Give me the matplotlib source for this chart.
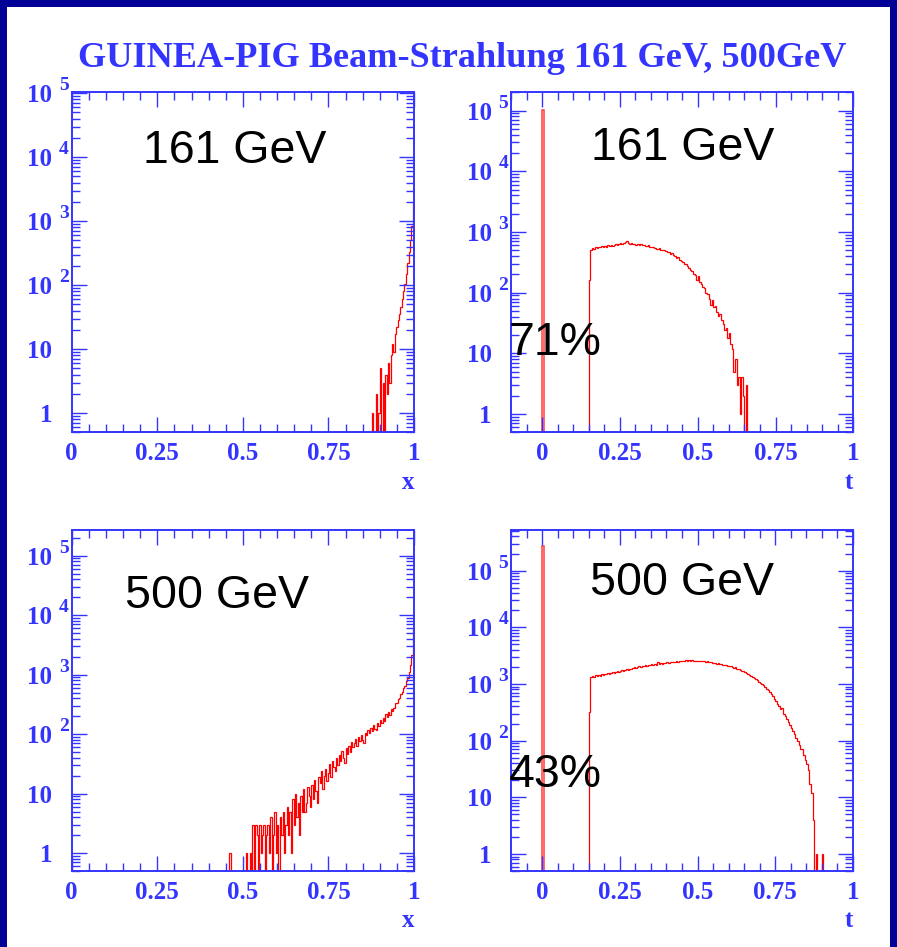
import numpy as np
import matplotlib
matplotlib.use("Agg")
import matplotlib.pyplot as plt
from matplotlib import ticker, transforms
from matplotlib.patches import Rectangle

# ---------------- data ----------------
title = "GUINEA-PIG Beam-Strahlung 161 GeV, 500GeV"
energy_labels = ["161 GeV", "500 GeV"]
peak_fractions = ["71%", "43%"]

x_bin_width = 0.004
t_bin_width = 0.005

# luminosity spectrum x = sqrt(s')/sqrt(s), 161 GeV (bins start at 0.876)
x161_start = 0.876
x161_counts = [1, 0, 0, 2, 0, 1, 5, 0, 3, 0, 4, 2, 6, 3, 8, 12, 9, 17, 22, 28,
               35, 45, 60, 80, 105, 150, 220, 330, 500, 850, 2000]

# luminosity spectrum, 500 GeV (bins start at 0.460)
x500_start = 0.460
x500_counts = [1, 0, 0, 0, 0, 0, 0, 0, 0, 0, 0, 0, 1, 0, 0, 1, 0, 3, 0, 3,
               2, 0, 3, 1, 2, 3, 0, 2, 3, 1, 4, 0, 2, 5, 1, 3, 0, 4, 2, 5,
               1, 3, 6, 2, 5, 1, 8, 3, 10, 4, 7, 2, 9, 5, 12, 5, 7, 13, 9, 6,
               14, 8, 17, 11, 7, 19, 15, 24, 12, 20, 26, 16, 22, 31, 19, 35, 28, 24, 39, 30,
               45, 36, 52, 40, 33, 58, 47, 62, 51, 74, 60, 70, 82, 64, 88, 76, 95, 81, 72, 104,
               96, 118, 103, 128, 112, 140, 124, 116, 155, 138, 172, 152, 190, 168, 214, 196, 232, 210, 262, 248,
               280, 330, 335, 390, 410, 475, 510, 590, 650, 770, 890, 1100, 1450, 2100, 5800]

# t spectrum, 161 GeV: peak bin at t = 0 plus continuum from t = 0.150
t161_peak = 1.02e5
t161_start = 0.150
t161_counts = [160, 500, 540, 520, 560, 545, 570, 555, 580, 565,
               590, 575, 600, 585, 610, 595, 620, 640, 615, 630,
               650, 625, 660, 690, 700, 655, 640, 660, 630, 645,
               620, 640, 615, 625, 600, 620, 595, 580, 600, 570,
               560, 575, 545, 530, 520, 535, 510, 495, 500, 480,
               470, 460, 440, 445, 420, 395, 375, 385, 350, 330,
               320, 300, 295, 270, 255, 240, 230, 205, 195, 160,
               185, 150, 140, 125, 120, 100, 95, 80, 62, 75,
               58, 60, 48, 42, 45, 35, 30, 24, 26, 18,
               22, 14, 12, 5, 8, 3, 4, 1, 4, 2,
               0, 3]

# t spectrum, 500 GeV: peak bin at t = 0 plus continuum from t = 0.150
t500_peak = 2.7e5
t500_start = 0.150
t500_counts = [320, 1350, 1380, 1300, 1420, 1390, 1450, 1400, 1480, 1430,
               1500, 1470, 1550, 1490, 1580, 1640, 1560, 1620, 1680, 1600,
               1720, 1790, 1700, 1760, 1820, 1780, 1870, 1830, 1900, 1950,
               1880, 1980, 2030, 1970, 2080, 2040, 2120, 2090, 2180, 2140,
               2230, 2160, 2270, 2200, 2400, 2280, 2340, 2290, 2380, 2320,
               2420, 2360, 2450, 2390, 2480, 2430, 2510, 2460, 2540, 2490,
               2570, 2520, 2600, 2550, 2620, 2560, 2600, 2540, 2580, 2530,
               2570, 2510, 2560, 2490, 2530, 2460, 2500, 2430, 2460, 2380,
               2330, 2360, 2290, 2310, 2240, 2270, 2200, 2150, 2180, 2090,
               2050, 2080, 1990, 1940, 1960, 1870, 1820, 1780, 1720, 1680,
               1620, 1560, 1520, 1450, 1400, 1350, 1280, 1220, 1180, 1100,
               1050, 990, 940, 870, 820, 770, 710, 660, 600, 550,
               500, 450, 410, 360, 380, 300, 270, 240, 215, 190,
               170, 150, 130, 110, 100, 85, 70, 72, 55, 45,
               38, 30, 17, 12, 4, 0, 1, 0, 0, 0,
               1]

x_ticks = [0, 0.25, 0.5, 0.75, 1]
x_tick_labels = ["0", "0.25", "0.5", "0.75", "1"]
decades = [1, 10, 100, 1000, 10000, 100000]

# ---------------- style ----------------
W, H = 897, 947
BLUE = "#3434ff"
RED = "#ff0000"
NAVY = "#000096"
SERIF = "Liberation Serif"
SANS = "Liberation Sans"
FLOOR = 1e-3
TICK_FS = 18

fig = plt.figure(figsize=(W / 100, H / 100), dpi=100)
fig.patch.set_facecolor("white")

# dark slide frame
for rect in [(0, 1 - 7 / H, 1, 7 / H), (0, 0, 7 / W, 1), (890 / W, 0, 7 / W, 1)]:
    fig.patches.append(Rectangle(rect[:2], rect[2], rect[3], transform=fig.transFigure,
                                 facecolor=NAVY, edgecolor="none", zorder=-10))


def px_axes(left, top, right, bottom):
    return fig.add_axes([left / W, 1 - bottom / H, (right - left) / W, (bottom - top) / H])


def style_axes(ax, xlim, ylim, xname):
    ax.set_yscale("log")
    ax.set_xlim(*xlim)
    ax.set_ylim(*ylim)
    for sp in ax.spines.values():
        sp.set_color(BLUE)
        sp.set_linewidth(1.4)
    ax.xaxis.set_major_locator(ticker.FixedLocator(x_ticks))
    ax.xaxis.set_major_formatter(ticker.FixedFormatter(x_tick_labels))
    ax.xaxis.set_minor_locator(ticker.MultipleLocator(0.05))
    vis = [d for d in decades if ylim[0] <= d <= ylim[1]]
    ax.yaxis.set_major_locator(ticker.FixedLocator(vis))
    ax.yaxis.set_major_formatter(ticker.FuncFormatter(lambda v, p: "1" if v < 5 else "10"))
    ax.yaxis.set_minor_locator(ticker.LogLocator(base=10, subs=np.arange(2, 10), numticks=20))
    ax.yaxis.set_minor_formatter(ticker.NullFormatter())
    ax.tick_params(which="both", direction="in", top=True, right=True,
                   color=BLUE, width=1.0)
    ax.tick_params(which="major", length=10.8)
    ax.tick_params(which="minor", length=5.8)
    ax.tick_params(axis="x", which="major", pad=7.0)
    ax.tick_params(axis="y", which="major", pad=14.0)
    for lab in ax.get_xticklabels() + ax.get_yticklabels():
        lab.set_fontfamily(SERIF)
        lab.set_fontweight("bold")
        lab.set_fontsize(TICK_FS)
        lab.set_color(BLUE)
    # decade exponents
    exp_tr = transforms.offset_copy(ax.get_yaxis_transform(), fig=fig, x=-3, y=3, units="dots")
    for d in vis:
        e = int(round(np.log10(d)))
        if e >= 2:
            ax.text(0, d, str(e), transform=exp_tr, ha="right", va="baseline",
                    fontfamily=SERIF, fontweight="bold", fontsize=14, color=BLUE,
                    clip_on=False)
    ax.annotate(xname, xy=(1, 0), xycoords="axes fraction", xytext=(0, -40.5),
                textcoords="offset points", ha="right", va="baseline",
                fontfamily=SERIF, fontweight="bold", fontsize=TICK_FS, color=BLUE)


def draw_hist(ax, start, width, counts):
    c = np.asarray(counts, dtype=float)
    edges = start + width * np.arange(len(c) + 1)
    ax.stairs(np.where(c > 0, c, FLOOR), edges, baseline=FLOOR, color=RED, lw=0.9)


def draw_peak(ax, value, width):
    ax.stairs([value], [0, width], baseline=FLOOR, color="#ff4040", lw=1.1)


ax1 = px_axes(71.7, 91.7, 414, 432.3)
ax2 = px_axes(511, 92.3, 853.3, 432.3)
ax3 = px_axes(71.7, 530, 414, 871)
ax4 = px_axes(511, 530, 853, 871)

style_axes(ax1, (0, 1), (0.5, 1.05e5), "x")
style_axes(ax2, (-0.1, 1), (0.5, 2.0e5), "t")
style_axes(ax3, (0, 1), (0.5, 2.7e5), "x")
style_axes(ax4, (-0.1, 1), (0.5, 5.2e5), "t")

draw_hist(ax1, x161_start, x_bin_width, x161_counts)
draw_hist(ax3, x500_start, x_bin_width, x500_counts)
draw_peak(ax2, t161_peak, t_bin_width)
draw_hist(ax2, t161_start, t_bin_width, t161_counts)
draw_peak(ax4, t500_peak, t_bin_width)
draw_hist(ax4, t500_start, t_bin_width, t500_counts)

txt = dict(fontfamily=SANS, fontsize=33.5, color="black", ha="center", va="baseline")
ax1.text(0.477, 0.792, energy_labels[0], transform=ax1.transAxes, **txt)
ax2.text(0.501, 0.801, energy_labels[0], transform=ax2.transAxes, **txt)
ax2.text(0.1285, 0.227, peak_fractions[0], transform=ax2.transAxes, **txt)
ax3.text(0.4236, 0.770, energy_labels[1], transform=ax3.transAxes, **txt)
ax4.text(0.499, 0.809, energy_labels[1], transform=ax4.transAxes, **txt)
ax4.text(0.1285, 0.247, peak_fractions[1], transform=ax4.transAxes, **txt)

# title, sized to span the page header
t = fig.text(462 / W, 1 - 67 / H, title, ha="center", va="baseline",
             fontfamily=SERIF, fontweight="bold", fontsize=24, color=BLUE)
r = fig.canvas.get_renderer()
wpx = t.get_window_extent(r).width
t.set_fontsize(24 * 770 / wpx)

fig.savefig("out.png", dpi=100, facecolor=fig.get_facecolor())
